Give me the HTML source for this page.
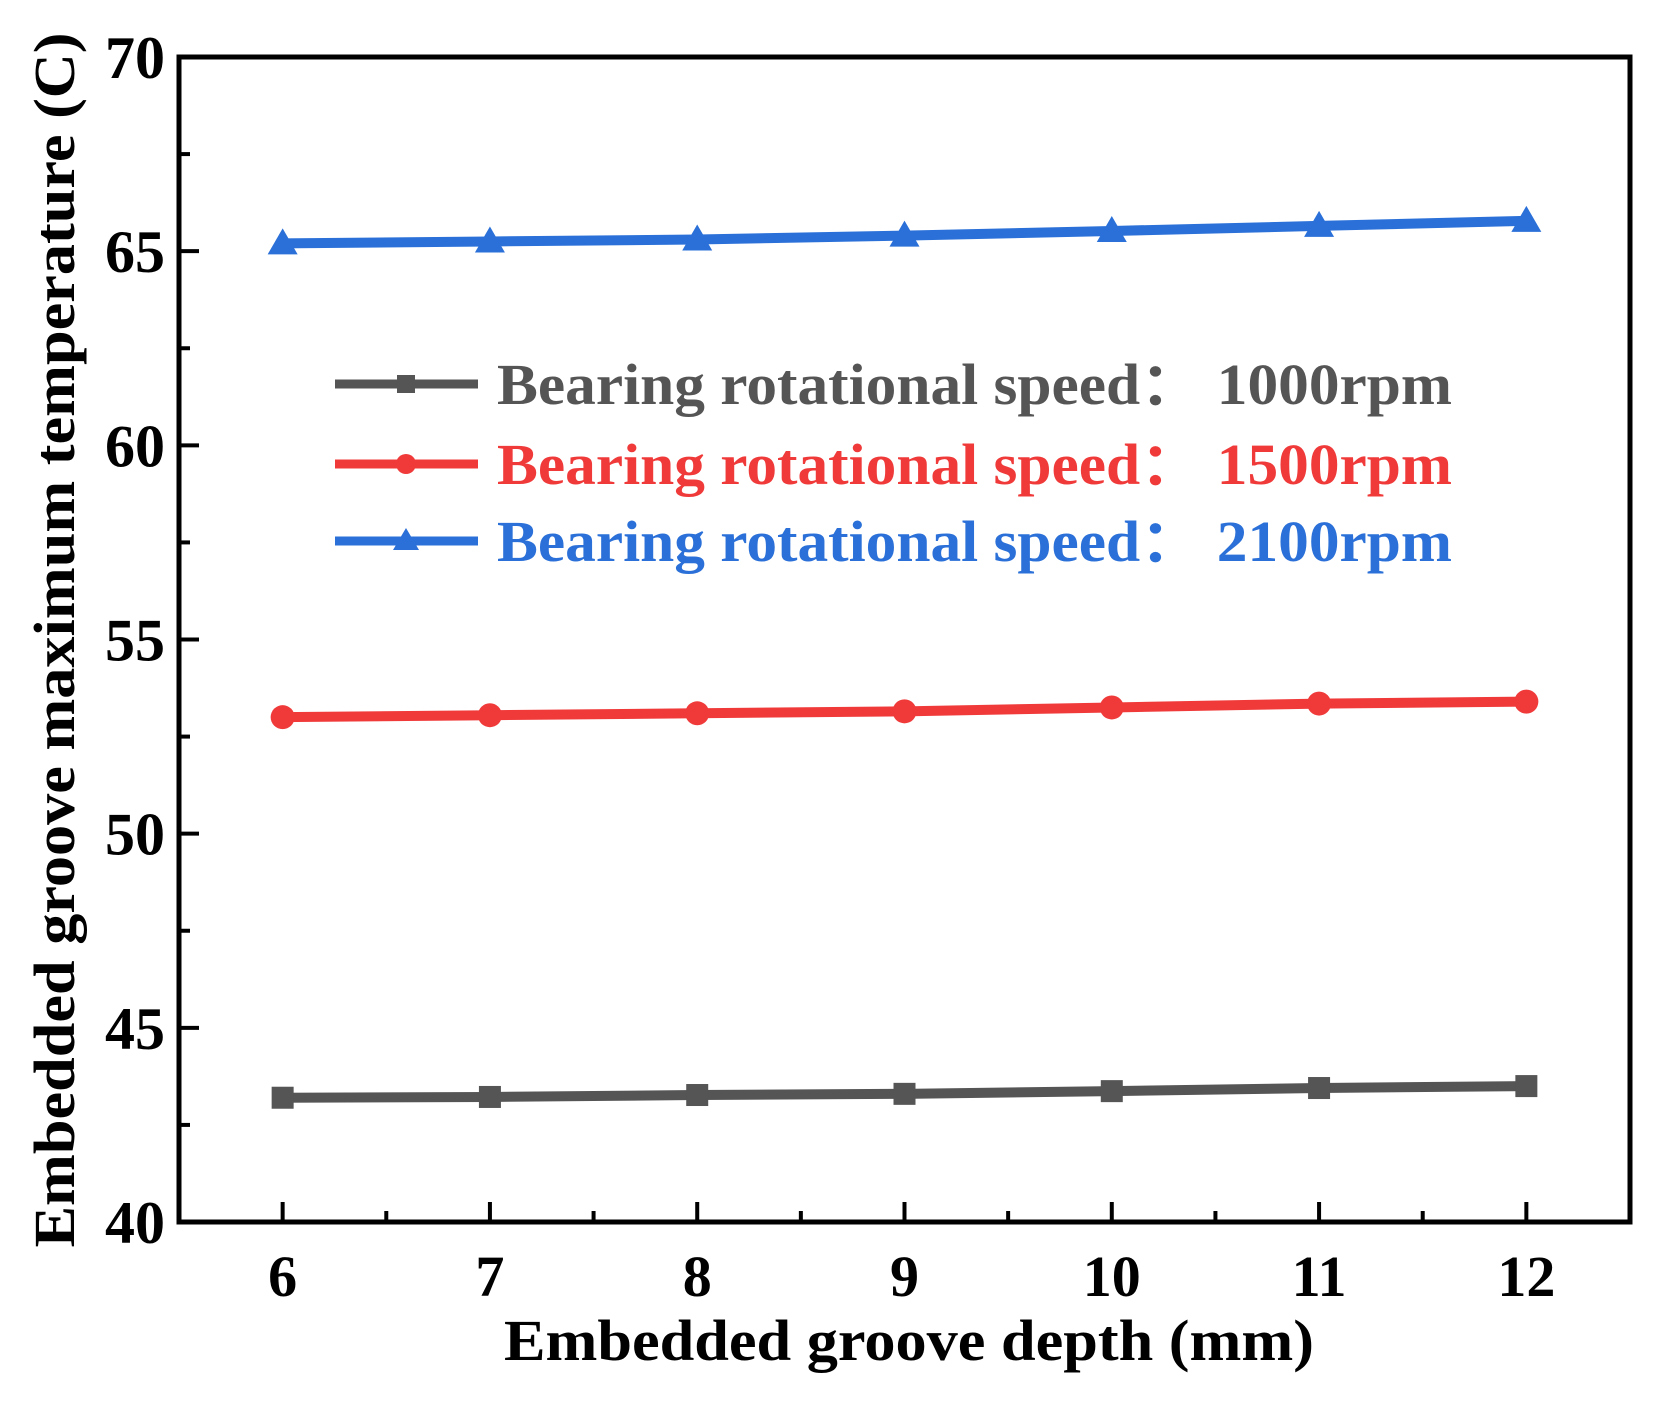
<!DOCTYPE html>
<html><head><meta charset="utf-8"><style>
html,body{margin:0;padding:0;background:#fff;}
svg text{font-family:"Liberation Serif",serif;font-weight:bold;}
</style></head><body>
<svg id="chart" width="1659" height="1397" viewBox="0 0 1659 1397">
</svg>
<script>
const categories=[6,7,8,9,10,11,12];
const series1000=[43.2,43.22,43.27,43.3,43.37,43.45,43.5];
const series1500=[53.0,53.05,53.1,53.15,53.25,53.35,53.4];
const series2100=[65.2,65.25,65.3,65.4,65.52,65.65,65.78];
const yTicks=[40,45,50,55,60,65,70];
const xTicks=[6,7,8,9,10,11,12];
const seriesNames=["Bearing rotational speed\uFF1A 1000rpm","Bearing rotational speed\uFF1A 1500rpm","Bearing rotational speed\uFF1A 2100rpm"];

const svg=document.getElementById('chart');
const NS='http://www.w3.org/2000/svg';
const L=179,R=1630,T=57,B=1222;
const xMin=5.5,xMax=12.5,yMin=40,yMax=70;
function xs(v){return L+(v-xMin)/(xMax-xMin)*(R-L);}
function ys(v){return B-(v-yMin)/(yMax-yMin)*(B-T);}
function mk(tag,attrs,parent){const e=document.createElementNS(NS,tag);for(const k in attrs)e.setAttribute(k,attrs[k]);(parent||svg).appendChild(e);return e;}

yTicks.forEach((v,i)=>{
  const y=ys(v);
  const t=mk('line',{x1:L,x2:L+20,y1:y,y2:y,stroke:'#000','stroke-width':4});
  
  
  if(i<yTicks.length-1){const ym=ys(v+2.5);const m=mk('line',{x1:L,x2:L+11,y1:ym,y2:ym,stroke:'#000','stroke-width':4});
    
    }
  const lb=mk('text',{x:L-14,y:y+21,'text-anchor':'end','font-size':60});
  lb.textContent=v;
  
  
});
xTicks.forEach((v,i)=>{
  const x=xs(v);
  const t=mk('line',{x1:x,x2:x,y1:B,y2:B-20,stroke:'#000','stroke-width':4});
  
  
  if(i<xTicks.length-1){const xm=xs(v+0.5);const m=mk('line',{x1:xm,x2:xm,y1:B,y2:B-11,stroke:'#000','stroke-width':4});
    
    }
  const lb=mk('text',{x:x,y:B+74,'text-anchor':'middle','font-size':58});
  lb.textContent=v;
  
  
});
const frame=mk('rect',{x:L,y:T,width:R-L,height:B-T,fill:'none',stroke:'#000','stroke-width':5});



const colors=['#555555','#f03a3a','#2a70d8'];
const data=[series1000,series1500,series2100];
function marker(type,x,y,c,size){
  if(type===0) return mk('rect',{x:x-size,y:y-size,width:size*2,height:size*2,fill:c});
  if(type===1) return mk('circle',{cx:x,cy:y,r:size+1,fill:c});
  return mk('polygon',{points:`${x},${y-size-4} ${x-size-4},${y+size} ${x+size+4},${y+size}`,fill:c});
}
data.forEach((s,si)=>{
  const pts=s.map((v,i)=>xs(categories[i])+','+ys(v)).join(' ');
  const pl=mk('polyline',{points:pts,fill:'none',stroke:colors[si],'stroke-width':10});
  
  
  s.forEach((v,i)=>{
    const m=marker(si,xs(categories[i]),ys(v),colors[si],11);
    
    
  });
});
const legY=[400,480,557];
seriesNames.forEach((n,i)=>{
  const y=legY[i];
  const ln=mk('line',{x1:335,x2:478,y1:y-16,y2:y-16,stroke:colors[i],'stroke-width':9});
  
  
  const m=marker(i,406,y-16,colors[i],9);
  
  
  const t=mk('text',{x:497,y:y+4,'font-size':58,fill:colors[i],'textLength':955,'lengthAdjust':'spacingAndGlyphs'});
  t.textContent=n;
  
  
});
const xt=mk('text',{x:909,y:1360,'text-anchor':'middle','font-size':58,'textLength':810,'lengthAdjust':'spacingAndGlyphs'});
xt.textContent='Embedded groove depth (mm)';


const yt=mk('text',{x:0,y:0,'text-anchor':'middle','font-size':58,transform:'translate(74,640) rotate(-90)','textLength':1215,'lengthAdjust':'spacingAndGlyphs'});
yt.textContent='Embedded groove maximum temperature (C)';


</script>
</body></html>
